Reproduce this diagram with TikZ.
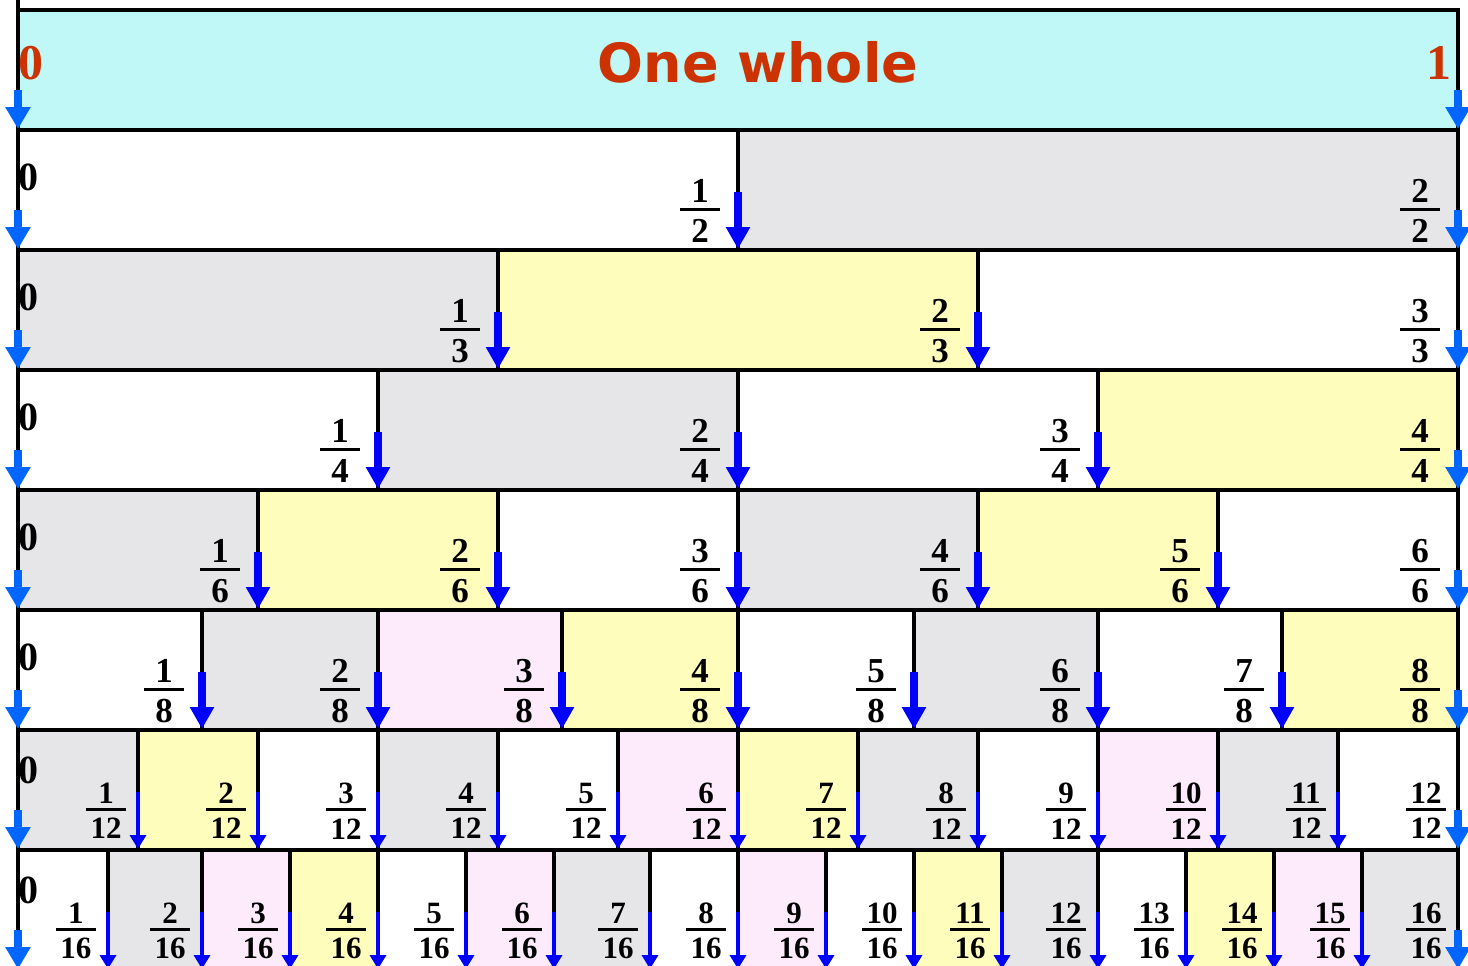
\documentclass[tikz,border=0pt]{standalone}
\usepackage{fontspec}
\setmainfont{Liberation Serif}
\newfontfamily\wholefont{DejaVu Sans}
\usetikzlibrary{arrows.meta}

\definecolor{wholecyan}{HTML}{C0F7F7}
\definecolor{partgray}{HTML}{E6E6E8}
\definecolor{partyellow}{HTML}{FFFDBB}
\definecolor{partpink}{HTML}{FDEBFC}
\definecolor{edgeblue}{HTML}{0066FF}
\definecolor{wholered}{HTML}{CC3300}

% numerator over a bar over denominator
\newcommand{\stackfrac}[2]{\vbox{\offinterlineskip
  \hbox to 40pt{\hss#1\hss}\kern.15em
  \hrule height 3pt\kern.23em
  \hbox to 40pt{\hss#2\hss}}}

% #1 parts, #2 top, #3 arrow style, #4 label style, #5 zero baseline, #6 right edges/fills
\newcommand{\fracrow}[6]{%
  \foreach \x/\c [remember=\x as \xp (initially 18)] in {#6}{
    \path[fill=\c] (\xp,#2) rectangle (\x,#2+120);
  }
  \node[zerolabel] (z#1) at (28,#2+#5) {0};
  \draw[partline] (18,#2) -- (18,#2+120);
  \foreach \x/\c in {#6}{
    \draw[partline] (\x,#2) -- (\x,#2+120);
  }
  \draw[partline] (16,#2) -- (1460,#2) (16,#2+120) -- (1460,#2+120);
  \foreach \x/\c [count=\i] in {#6}{
    \node[#4] (f#1-\i) at (\x,#2+81) {\stackfrac{\i}{#1}};
    \coordinate (a#1-\i) at (\x,#2+62);
    \coordinate (b#1-\i) at (\x,#2+119);
    \ifnum\i<#1 \draw[#3] (a#1-\i) -- (b#1-\i);\fi
  }
  \coordinate (s#1) at (18,#2+80);
  \coordinate (t#1) at (18,#2+119);
  \coordinate (e#1) at (1458,#2+80);
  \draw[edgearrow] (s#1) -- (t#1);
  \draw[edgearrow] (e#1) -- (b#1-#1);
}

\begin{document}
\begin{tikzpicture}[x=1pt,y=-1pt,
  partline/.style={line width=4pt},
  thickarrow/.style={blue,line width=8pt,-{Triangle[width=23pt,length=22pt]}},
  thinarrow/.style={blue,line width=4pt,-{Triangle[width=16pt,length=14pt]}},
  edgearrow/.style={edgeblue,line width=8pt,-{Triangle[width=24pt,length=22pt]}},
  zerolabel/.style={anchor=base,inner sep=0pt,font=\fontsize{40}{40}\selectfont\bfseries},
  bigfrac/.style={xshift=-38pt,inner sep=0pt,font=\fontsize{35}{35}\selectfont\bfseries},
  smallfrac/.style={xshift=-32pt,inner sep=0pt,font=\fontsize{31}{31}\selectfont\bfseries},
  endlabel/.style={anchor=base,inner sep=0pt,text=wholered,font=\fontsize{50}{50}\selectfont\bfseries},
  titlelabel/.style={anchor=base,inner sep=0pt,text=wholered,font=\wholefont\fontsize{54}{54}\selectfont\bfseries}]
\clip (0,0) rectangle (1468,966);
% one whole
\path[fill=wholecyan] (18,10) rectangle (1458,130);
\draw[partline] (18,0) -- (18,130) (1458,10) -- (1458,130);
\draw[partline] (16,10) -- (1460,10);
\node[titlelabel] (whole) at (758,82) {One whole};
\node[endlabel] (zero) at (31,80) {0};
\node[endlabel] (one) at (1439,80) {1};
\coordinate (wa) at (18,90);
\coordinate (wb) at (18,129);
\coordinate (wc) at (1458,90);
\coordinate (wd) at (1458,129);
\draw[edgearrow] (wa) -- (wb);
\draw[edgearrow] (wc) -- (wd);
% rows of parts
\fracrow{2}{130}{thickarrow}{bigfrac}{60}{738/white,1458/partgray}
\fracrow{3}{250}{thickarrow}{bigfrac}{60}{498/partgray,978/partyellow,1458/white}
\fracrow{4}{370}{thickarrow}{bigfrac}{60}{378/white,738/partgray,1098/white,1458/partyellow}
\fracrow{6}{490}{thickarrow}{bigfrac}{60}{258/partgray,498/partyellow,738/white,978/partgray,1218/partyellow,1458/white}
\fracrow{8}{610}{thickarrow}{bigfrac}{60}{202/white,378/partgray,562/partpink,738/partyellow,914/white,1098/partgray,1282/white,1458/partyellow}
\fracrow{12}{730}{thinarrow}{smallfrac}{53}{138/partgray,258/partyellow,378/white,498/partgray,618/white,738/partpink,858/partyellow,978/partgray,1098/white,1218/partpink,1338/partgray,1458/white}
\fracrow{16}{850}{thinarrow}{smallfrac}{53}{108/white,202/partgray,290/partpink,378/partyellow,466/white,554/partpink,650/partgray,738/white,826/partpink,914/white,1002/partyellow,1098/partgray,1186/white,1274/partyellow,1362/partpink,1458/partgray}
\end{tikzpicture}
\end{document}
